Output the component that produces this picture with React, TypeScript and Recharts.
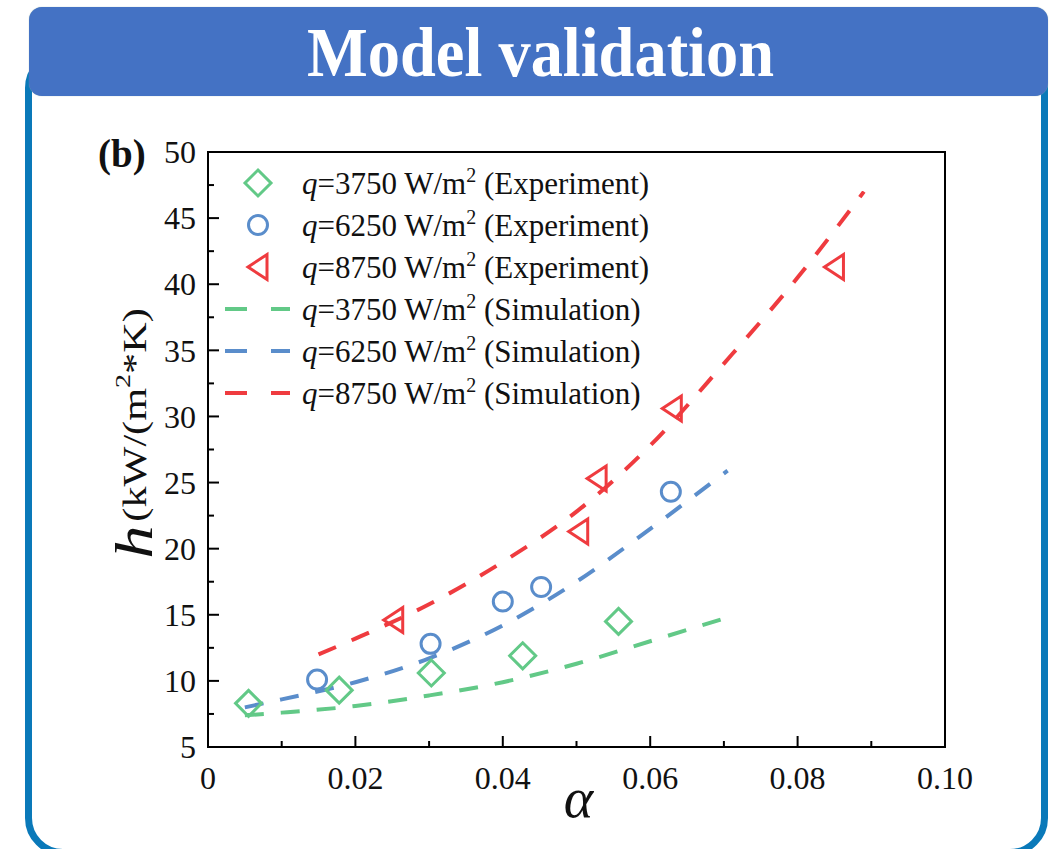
import React from 'react';
import { ComposedChart, Line, Scatter, XAxis, YAxis, ReferenceArea, Legend } from 'recharts';

const FONT = '"Liberation Serif", "Times New Roman", serif';

const GREEN = '#62C987';
const BLUE = '#5A8DCB';
const RED = '#EF3B3F';

// Experiment data (alpha, h)
const expQ3750 = [
  { x: 0.0055, y: 8.3 },
  { x: 0.0178, y: 9.3 },
  { x: 0.0303, y: 10.6 },
  { x: 0.0427, y: 11.9 },
  { x: 0.0557, y: 14.5 },
];
const expQ6250 = [
  { x: 0.0148, y: 10.1 },
  { x: 0.0302, y: 12.8 },
  { x: 0.04, y: 16.0 },
  { x: 0.0452, y: 17.1 },
  { x: 0.0628, y: 24.3 },
];
const expQ8750 = [
  { x: 0.0252, y: 14.6 },
  { x: 0.0503, y: 21.3 },
  { x: 0.0528, y: 25.3 },
  { x: 0.063, y: 30.6 },
  { x: 0.085, y: 41.3 },
];

// Simulation curves
const simQ3750 = [
  { x: 0.005, y: 7.4 },
  { x: 0.01, y: 7.6 },
  { x: 0.02, y: 8.1 },
  { x: 0.03, y: 8.9 },
  { x: 0.04, y: 9.9 },
  { x: 0.05, y: 11.3 },
  { x: 0.06, y: 13.0 },
  { x: 0.0705, y: 14.8 },
];
const simQ6250 = [
  { x: 0.005, y: 8.0 },
  { x: 0.01, y: 8.6 },
  { x: 0.02, y: 9.9 },
  { x: 0.03, y: 11.7 },
  { x: 0.04, y: 14.2 },
  { x: 0.05, y: 17.5 },
  { x: 0.06, y: 21.5 },
  { x: 0.0705, y: 25.9 },
];
const simQ8750 = [
  { x: 0.015, y: 12.0 },
  { x: 0.02, y: 13.2 },
  { x: 0.03, y: 15.8 },
  { x: 0.04, y: 19.0 },
  { x: 0.05, y: 22.8 },
  { x: 0.06, y: 27.8 },
  { x: 0.07, y: 34.0 },
  { x: 0.08, y: 40.5 },
  { x: 0.089, y: 47.0 },
];

const xTicks = [0, 0.01, 0.02, 0.03, 0.04, 0.05, 0.06, 0.07, 0.08, 0.09, 0.1];
const yTicks = [5, 7.5, 10, 12.5, 15, 17.5, 20, 22.5, 25, 27.5, 30, 32.5, 35, 37.5, 40, 42.5, 45, 47.5, 50];

const legendItems = [
  { q: '3750', kind: 'Experiment', color: GREEN, marker: 'diamond' },
  { q: '6250', kind: 'Experiment', color: BLUE, marker: 'circle' },
  { q: '8750', kind: 'Experiment', color: RED, marker: 'triangle' },
  { q: '3750', kind: 'Simulation', color: GREEN, marker: 'dash' },
  { q: '6250', kind: 'Simulation', color: BLUE, marker: 'dash' },
  { q: '8750', kind: 'Simulation', color: RED, marker: 'dash' },
];

const MarkerShape = ({ kind, cx, cy, color }: any) => {
  if (kind === 'diamond') {
    const r = 13;
    return (
      <path d={`M${cx},${cy - r} L${cx + r},${cy} L${cx},${cy + r} L${cx - r},${cy} Z`} fill="none" stroke={color} strokeWidth={3} />
    );
  }
  if (kind === 'circle') {
    return <circle cx={cx} cy={cy} r={9.5} fill="none" stroke={color} strokeWidth={3} />;
  }
  if (kind === 'triangle') {
    return (
      <path d={`M${cx - 10},${cy} L${cx + 9},${cy - 12.5} L${cx + 9},${cy + 12.5} Z`} fill="none" stroke={color} strokeWidth={3} strokeLinejoin="miter" />
    );
  }
  return null;
};

const XTick = (props: any) => {
  const { x, y, payload } = props;
  const v = payload.value;
  const major = Math.round(v * 100) % 2 === 0;
  const label = v === 0 ? '0' : v.toFixed(2);
  return (
    <g>
      <line x1={x} x2={x} y1={y} y2={y - (major ? 11 : 6)} stroke="#000" strokeWidth={2} />
      {major && (
        <text x={x} y={y + 42} textAnchor="middle" fontFamily={FONT} fontSize={32} fill="#111">
          {label}
        </text>
      )}
    </g>
  );
};

const YTick = (props: any) => {
  const { x, y, payload } = props;
  const v = payload.value;
  const major = Math.round(v * 10) % 50 === 0;
  return (
    <g>
      <line x1={x} x2={x + (major ? 11 : 6)} y1={y} y2={y} stroke="#000" strokeWidth={2} />
      {major && (
        <text x={x - 12} y={y} dy="0.35em" textAnchor="end" fontFamily={FONT} fontSize={32} fill="#111">
          {v}
        </text>
      )}
    </g>
  );
};

const YLabel = (props: any) => {
  const vb = props.viewBox || { x: 128, y: 152, width: 80, height: 595 };
  const cx = vb.x + 7;
  const cy = vb.y + vb.height / 2 - 16;
  return (
    <g>
      <g transform={`translate(${cx}, ${cy}) rotate(-90) scale(1.28, 1)`}>
        <text x={0} y={0} textAnchor="middle" dominantBaseline="central" fontFamily={FONT} fill="#111">
          <tspan fontStyle="italic" fontSize={52}>h</tspan>
          <tspan fontSize={33} dx={3}>(kW/(m</tspan>
          <tspan fontSize={22} dy={-13}>2</tspan>
          <tspan fontSize={33} dy={13}>*K)</tspan>
        </text>
      </g>
      <text x={vb.x - 30} y={167} fontFamily={FONT} fontWeight="bold" fontSize={39} fill="#111">
        (b)
      </text>
    </g>
  );
};

const XLabel = (props: any) => {
  const vb = props.viewBox || { x: 208, y: 747, width: 737, height: 60 };
  return (
    <text x={vb.x + vb.width / 2 + 2} y={vb.y + 70} textAnchor="middle" fontFamily={FONT} fontStyle="italic" fontSize={56} fill="#111">
      α
    </text>
  );
};

const renderLegend = () => (
  <svg width={460} height={250} style={{ overflow: 'visible', display: 'block' }}>
    {legendItems.map((it, i) => {
      const cy = 23 + 42 * i;
      return (
        <g key={i}>
          {it.marker === 'dash' ? (
            <g>
              <line x1={5} x2={27} y1={cy} y2={cy} stroke={it.color} strokeWidth={4} />
              <line x1={51} x2={70} y1={cy} y2={cy} stroke={it.color} strokeWidth={4} />
            </g>
          ) : (
            <MarkerShape kind={it.marker} cx={38} cy={cy} color={it.color} />
          )}
          <text x={82} y={cy} dy="0.35em" fontFamily={FONT} fontSize={31} fill="#111">
            <tspan fontStyle="italic">q</tspan>
            <tspan>{`=${it.q} W/m`}</tspan>
            <tspan fontSize={20} dy={-12}>2</tspan>
            <tspan dy={12}>{` (${it.kind})`}</tspan>
          </text>
        </g>
      );
    })}
  </svg>
);

export default function App() {
  return (
    <div style={{ position: 'absolute', left: 0, top: 0, width: 1051, height: 849, background: '#fff', overflow: 'hidden' }}>
      <div
        style={{
          position: 'absolute',
          left: 25,
          top: 50,
          width: 1023 - 14,
          height: 799 - 7,
          border: '7px solid #0A79B9',
          borderRadius: 38,
        }}
      />
      <div
        style={{
          position: 'absolute',
          left: 29,
          top: 7,
          width: 1019,
          height: 89,
          background: '#4472C4',
          borderRadius: 13,
          boxShadow: '0 0 1px #8aa',
          overflow: 'hidden',
        }}
      >
        <div
          style={{
            position: 'absolute',
            left: 0,
            top: 0,
            width: 1019,
            height: 89,
            color: '#fff',
            fontFamily: FONT,
            fontWeight: 'bold',
            fontSize: 70,
            textAlign: 'center',
            lineHeight: '92px',
            transform: 'translateX(2px) scaleX(0.92)',
            transformOrigin: '510px 50%',
          }}
        >
          Model validation
        </div>
      </div>
      <div style={{ position: 'absolute', left: 0, top: 0 }}>
        <ComposedChart width={1051} height={849} margin={{ top: 152, right: 106, bottom: 42, left: 128 }}>
          <XAxis
            type="number"
            dataKey="x"
            domain={[0, 0.1]}
            ticks={xTicks}
            interval={0}
            allowDataOverflow
            height={60}
            tickSize={0}
            tickMargin={0}
            tickLine={false}
            axisLine={{ stroke: '#000', strokeWidth: 2 }}
            tick={<XTick />}
            label={<XLabel />}
          />
          <YAxis
            type="number"
            dataKey="y"
            domain={[5, 50]}
            ticks={yTicks}
            interval={0}
            allowDataOverflow
            width={80}
            tickSize={0}
            tickMargin={0}
            tickLine={false}
            axisLine={{ stroke: '#000', strokeWidth: 2 }}
            tick={<YTick />}
            label={<YLabel />}
          />
          <ReferenceArea x1={0} x2={0.1} y1={5} y2={50} fill="none" fillOpacity={0} stroke="#000" strokeWidth={2} ifOverflow="visible" />
          <Scatter data={expQ3750} dataKey="y" isAnimationActive={false} shape={(p: any) => <MarkerShape kind="diamond" cx={p.cx} cy={p.cy} color={GREEN} />} />
          <Scatter data={expQ6250} dataKey="y" isAnimationActive={false} shape={(p: any) => <MarkerShape kind="circle" cx={p.cx} cy={p.cy} color={BLUE} />} />
          <Scatter data={expQ8750} dataKey="y" isAnimationActive={false} shape={(p: any) => <MarkerShape kind="triangle" cx={p.cx} cy={p.cy} color={RED} />} />
          <Line data={simQ3750} dataKey="y" type="monotone" stroke={GREEN} strokeWidth={4} strokeDasharray="19 17" dot={false} activeDot={false} isAnimationActive={false} />
          <Line data={simQ6250} dataKey="y" type="monotone" stroke={BLUE} strokeWidth={4} strokeDasharray="19 17" dot={false} activeDot={false} isAnimationActive={false} />
          <Line data={simQ8750} dataKey="y" type="monotone" stroke={RED} strokeWidth={4} strokeDasharray="19 17" dot={false} activeDot={false} isAnimationActive={false} />
          <Legend
            layout="horizontal"
            verticalAlign="middle"
            align="center"
            content={renderLegend}
            wrapperStyle={{ left: 220, top: 160, width: 460, height: 250 }}
          />
        </ComposedChart>
      </div>
    </div>
  );
}
